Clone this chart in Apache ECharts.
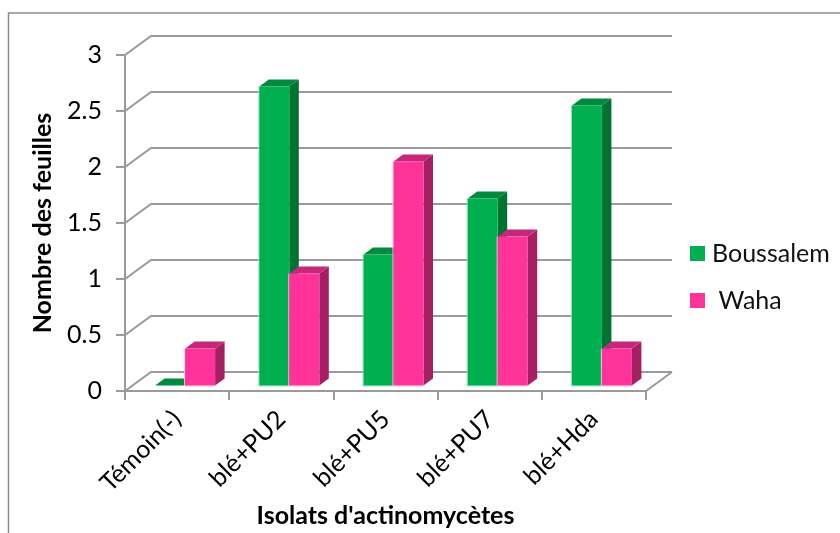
<!DOCTYPE html>
<html>
<head>
<meta charset="utf-8">
<style>html,body{margin:0;padding:0;background:#fff}#chart{width:840px;height:533px}</style>
<script src="https://cdn.jsdelivr.net/npm/echarts@6/dist/echarts.min.js"></script>
</head>
<body>
<div id="chart"></div>
<script>
const categories = ['Témoin(-)', 'blé+PU2', 'blé+PU5', 'blé+PU7', 'blé+Hda'];
const boussalem = [0, 2.67, 1.17, 1.67, 2.5];
const waha = [0.33, 1, 2, 1.33, 0.33];
const yTicks = [0, 0.5, 1, 1.5, 2, 2.5, 3];

const FONT = 'Lato, "Open Sans", sans-serif';
const AXIS_COLOR = '#9a9a9a';
// Oblique projection of the floor and of each bar, in pixels.
const WALL = { dx: 26, dy: -19 };
const BAR = { width: 30, dx: 9.5, dy: -7, shiftX: 8, shiftY: -5.5 };

const shades = {
  green: { front: '#00B050', top: '#008A3E', side: '#007232', edge: '#9fe3bf' },
  pink: { front: '#FF3399', top: '#C5287A', side: '#A52063', edge: '#ffc4e2' }
};

// One box: front face, top face and right-hand face.
function boxRenderer(shade, slot) {
  return function (params, api) {
    const cat = api.value(0);
    const base = api.coord([cat, 0]);
    const head = api.coord([cat, api.value(1)]);
    const x0 = base[0] + BAR.shiftX + slot * BAR.width;
    const x1 = x0 + BAR.width;
    const yb = base[1] + BAR.shiftY;
    const yt = head[1] + BAR.shiftY;
    const d = BAR;
    const top = [[x0, yt], [x1, yt], [x1 + d.dx, yt + d.dy], [x0 + d.dx, yt + d.dy]];
    const side = [[x1, yt], [x1 + d.dx, yt + d.dy], [x1 + d.dx, yb + d.dy], [x1, yb]];
    const children = [
      { type: 'polygon', shape: { points: side }, style: { fill: shade.side } },
      { type: 'polygon', shape: { points: top }, style: { fill: shade.top } }
    ];
    if (yb - yt > 0.5) {
      children.push({
        type: 'polyline',
        shape: { points: [[x0 - 0.5, yt], [x0 - 0.5, yb + 0.5], [x1, yb + 0.5]] },
        style: { stroke: shade.edge, lineWidth: 1, fill: null }
      });
      children.push({
        type: 'rect',
        shape: { x: x0, y: yt, width: BAR.width, height: yb - yt },
        style: { fill: shade.front }
      });
    }
    return { type: 'group', children };
  };
}

// Gridline on the back wall, joined to the y axis across the side wall.
function wallRenderer(params, api) {
  const front = api.coord([0, api.value(0)]);
  const band = api.size([1, 0])[0];
  const x0 = front[0] - band / 2;
  const x1 = x0 + band * categories.length;
  const y = front[1];
  const children = [{
    type: 'polyline',
    shape: { points: [[x0, y], [x0 + WALL.dx, y + WALL.dy], [x1 + WALL.dx, y + WALL.dy]] },
    style: { stroke: AXIS_COLOR, lineWidth: 2, fill: null }
  }];
  if (api.value(0) === 0) {
    children.push({
      type: 'polyline',
      shape: { points: [[x1, y], [x1 + WALL.dx, y + WALL.dy]] },
      style: { stroke: AXIS_COLOR, lineWidth: 2, fill: null }
    });
  }
  return { type: 'group', children };
}

const chart = echarts.init(document.getElementById('chart'), null, { renderer: 'canvas' });
chart.setOption({
  animation: false,
  backgroundColor: '#fff',
  graphic: [{
    type: 'polyline',
    silent: true,
    shape: { points: [[8.5, 533], [8.5, 13], [840, 13]] },
    style: { stroke: '#8c8c8c', lineWidth: 1.5, fill: null }
  }],
  grid: { left: 125, top: 55, width: 521, height: 336, outerBoundsMode: 'none' },
  legend: {
    orient: 'vertical',
    left: 685,
    top: 236,
    itemWidth: 15,
    itemHeight: 15,
    itemGap: 22,
    icon: 'rect',
    data: ['Boussalem', 'Waha'],
    selectedMode: false,
    formatter: name => (name === 'Waha' ? ' ' + name : name),
    textStyle: { fontFamily: FONT, fontSize: 25, color: '#111', padding: [0, 0, 0, 2] }
  },
  xAxis: {
    type: 'category',
    data: categories,
    name: "Isolats d'actinomycètes",
    nameLocation: 'middle',
    nameGap: 111,
    nameTextStyle: { fontFamily: FONT, fontSize: 25, fontWeight: 'bold', color: '#000' },
    axisLine: { onZero: false, lineStyle: { color: AXIS_COLOR, width: 2 } },
    axisTick: { show: true, alignWithLabel: false, length: 9, lineStyle: { color: AXIS_COLOR, width: 2 } },
    axisLabel: { rotate: 45, interval: 0, margin: 24, fontFamily: FONT, fontSize: 25, color: '#000' },
    splitLine: { show: false }
  },
  yAxis: {
    type: 'value',
    min: 0,
    max: 3,
    interval: 0.5,
    name: 'Nombre des feuilles',
    nameLocation: 'middle',
    nameGap: 70,
    nameTextStyle: { fontFamily: FONT, fontSize: 25, fontWeight: 'bold', color: '#000' },
    axisLine: { show: true, lineStyle: { color: AXIS_COLOR, width: 2 } },
    axisTick: { show: true, length: 9, lineStyle: { color: AXIS_COLOR, width: 2 } },
    axisLabel: { margin: 23, padding: [3, 0, 0, 0], fontFamily: FONT, fontSize: 25, color: '#000' },
    splitLine: { show: false }
  },
  series: [
    {
      type: 'custom',
      name: 'walls',
      silent: true,
      z: 1,
      data: yTicks.map(v => [v]),
      encode: { y: 0 },
      renderItem: wallRenderer
    },
    {
      type: 'custom',
      name: 'Boussalem',
      z: 3,
      itemStyle: { color: shades.green.front },
      data: boussalem.map((v, i) => [i, v]),
      encode: { x: 0, y: 1 },
      renderItem: boxRenderer(shades.green, -1)
    },
    {
      type: 'custom',
      name: 'Waha',
      z: 4,
      itemStyle: { color: shades.pink.front },
      data: waha.map((v, i) => [i, v]),
      encode: { x: 0, y: 1 },
      renderItem: boxRenderer(shades.pink, 0)
    }
  ]
});
</script>
</body>
</html>
